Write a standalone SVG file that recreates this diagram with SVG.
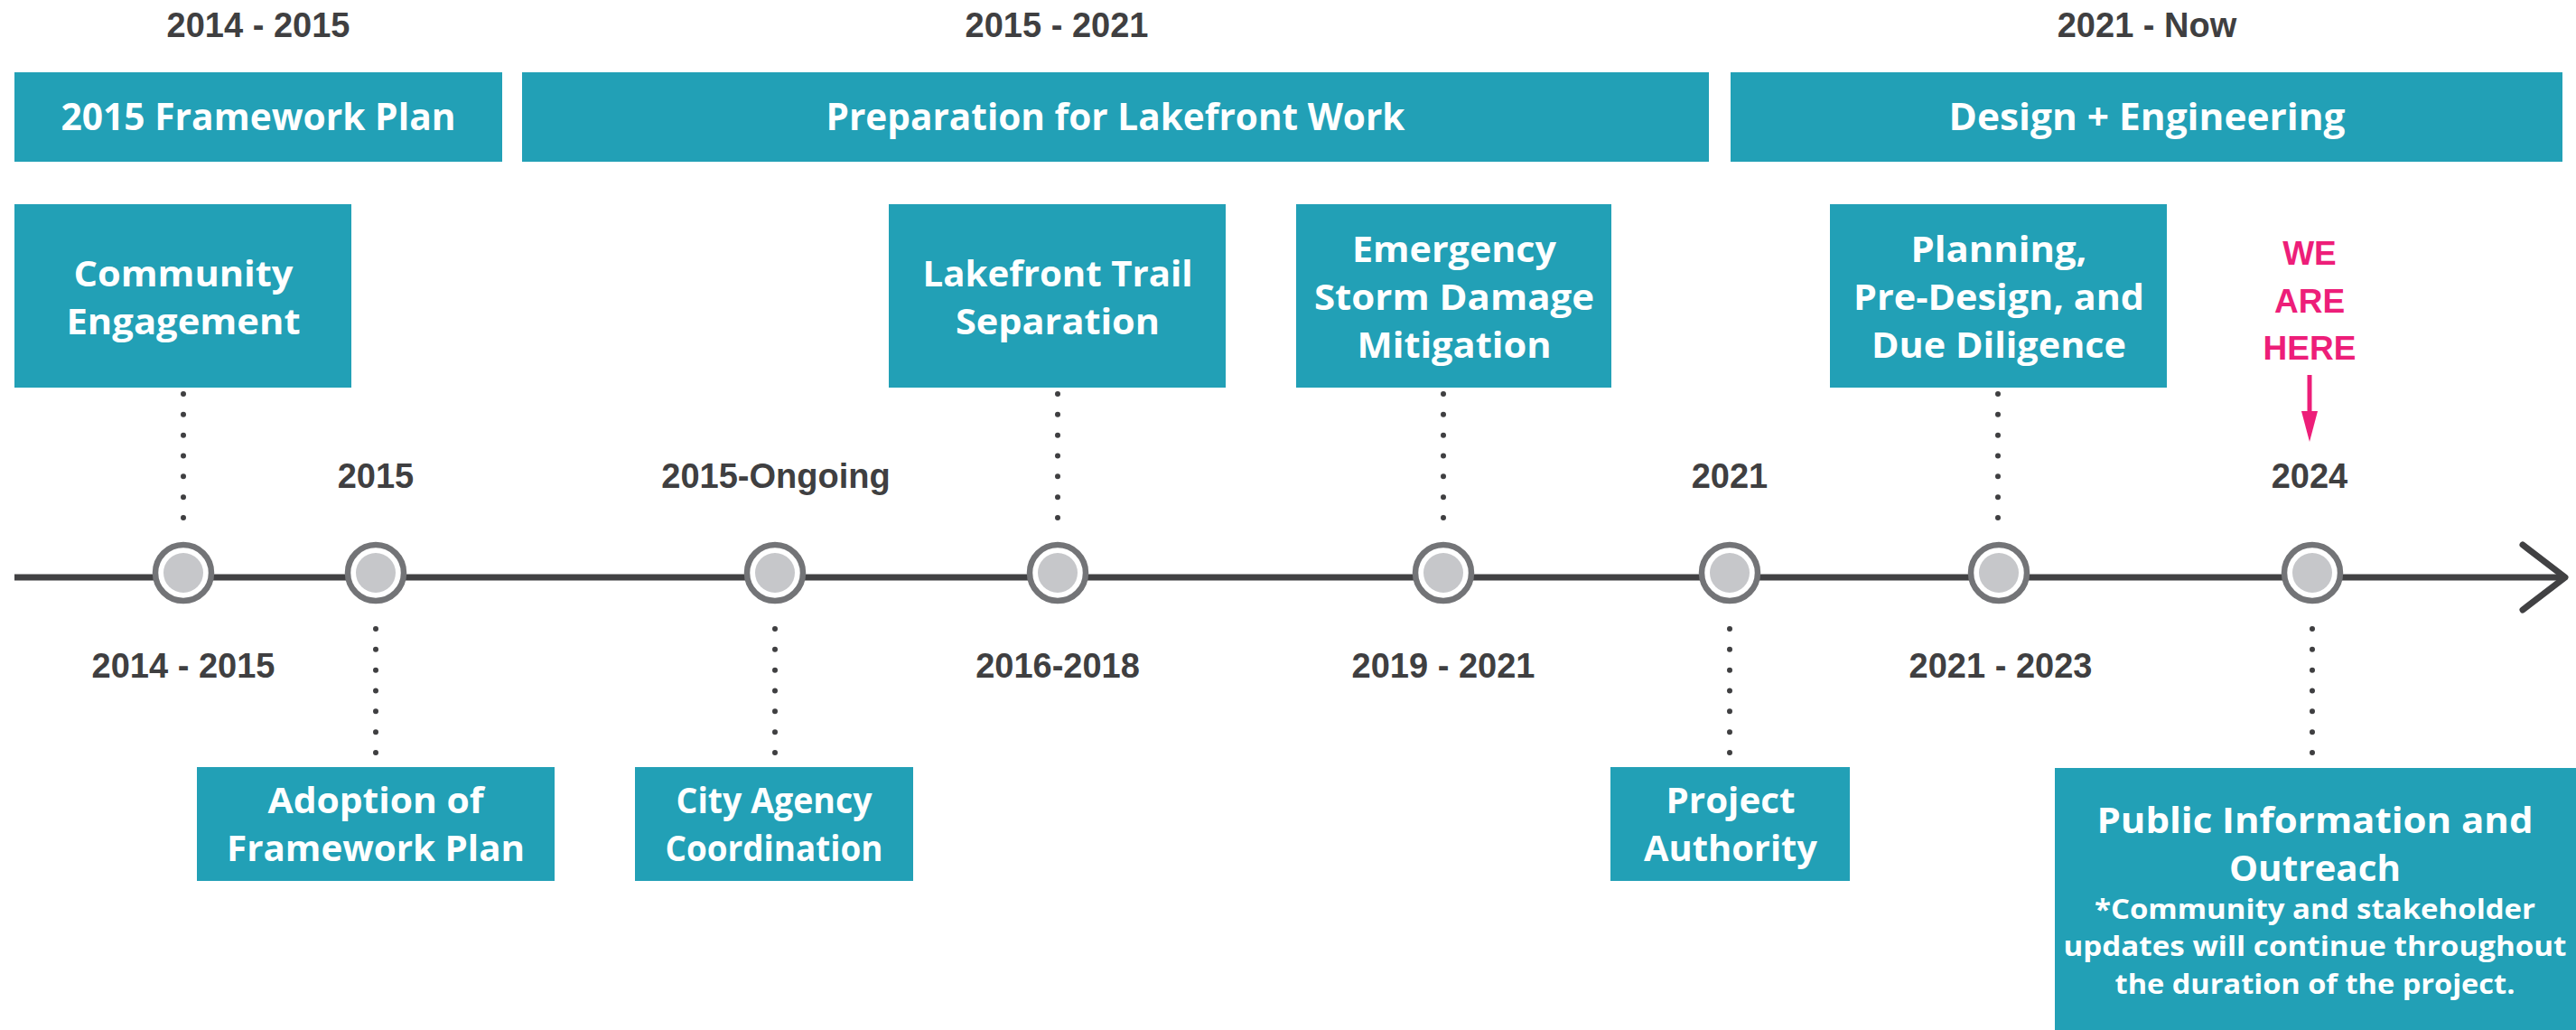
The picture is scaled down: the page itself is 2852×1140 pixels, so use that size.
<svg xmlns="http://www.w3.org/2000/svg" width="2852" height="1140" viewBox="0 0 2852 1140">
<style>
.box{fill:#22a0b6}
.bt{font-family:"Open Sans","Noto Sans",sans-serif;font-weight:700;font-size:40px;fill:#ffffff;text-anchor:middle}
.bh{font-size:41px}
.sm{font-size:30px}
.yr{font-family:"Liberation Sans",Arial,sans-serif;font-weight:700;font-size:38px;fill:#3f3f41;text-anchor:middle}
.pk{font-family:"Liberation Sans",Arial,sans-serif;font-weight:700;font-size:37px;fill:#ed1e79;text-anchor:middle}
.dot{stroke:#3f3f41;stroke-width:6;stroke-linecap:round;stroke-dasharray:0 22.83;fill:none}
.ring{fill:#ffffff;stroke:#737477;stroke-width:6.5}
.core{fill:#c6c7ca}
</style>
<rect width="2852" height="1140" fill="#ffffff"/>

<g id="period-labels">
<text class="yr" x="286" y="41">2014 - 2015</text>
<text class="yr" x="1170" y="41">2015 - 2021</text>
<text class="yr" x="2377" y="41">2021 - Now</text>
</g>

<g id="phase-framework">
<rect class="box" x="16" y="80" width="540" height="99"/>
<text class="bt bh" x="286" y="144" textLength="437" lengthAdjust="spacingAndGlyphs">2015 Framework Plan</text>
</g>
<g id="phase-preparation">
<rect class="box" x="578" y="80" width="1314" height="99"/>
<text class="bt bh" x="1235" y="144" textLength="641" lengthAdjust="spacingAndGlyphs">Preparation for Lakefront Work</text>
</g>
<g id="phase-design">
<rect class="box" x="1916" y="80" width="921" height="99"/>
<text class="bt bh" x="2377" y="144" textLength="439" lengthAdjust="spacingAndGlyphs">Design + Engineering</text>
</g>

<g id="connectors">
<line x1="16" y1="639" x2="2836" y2="639" stroke="#414143" stroke-width="7"/>
<polyline points="2793,603 2840,639 2793,675" fill="none" stroke="#414143" stroke-width="7" stroke-linecap="round" stroke-linejoin="round"/>
<line class="dot" x1="203" y1="436" x2="203" y2="573"/>
<line class="dot" x1="1171" y1="436" x2="1171" y2="573"/>
<line class="dot" x1="1598" y1="436" x2="1598" y2="573"/>
<line class="dot" x1="2212" y1="436" x2="2212" y2="573"/>
<line class="dot" x1="416" y1="696" x2="416" y2="833"/>
<line class="dot" x1="858" y1="696" x2="858" y2="833"/>
<line class="dot" x1="1915" y1="696" x2="1915" y2="833"/>
<line class="dot" x1="2560" y1="696" x2="2560" y2="833"/>
<line x1="2557" y1="415" x2="2557" y2="460" stroke="#ed1e79" stroke-width="5"/>
<polygon points="2548,455 2566,455 2557,489" fill="#ed1e79"/>
</g>

<g id="milestones">
<g id="m1"><circle class="ring" cx="203" cy="634" r="31"/><circle class="core" cx="203" cy="634" r="22"/></g>
<g id="m2"><circle class="ring" cx="416" cy="634" r="31"/><circle class="core" cx="416" cy="634" r="22"/></g>
<g id="m3"><circle class="ring" cx="858" cy="634" r="31"/><circle class="core" cx="858" cy="634" r="22"/></g>
<g id="m4"><circle class="ring" cx="1171" cy="634" r="31"/><circle class="core" cx="1171" cy="634" r="22"/></g>
<g id="m5"><circle class="ring" cx="1598" cy="634" r="31"/><circle class="core" cx="1598" cy="634" r="22"/></g>
<g id="m6"><circle class="ring" cx="1915" cy="634" r="31"/><circle class="core" cx="1915" cy="634" r="22"/></g>
<g id="m7"><circle class="ring" cx="2213" cy="634" r="31"/><circle class="core" cx="2213" cy="634" r="22"/></g>
<g id="m8"><circle class="ring" cx="2560" cy="634" r="31"/><circle class="core" cx="2560" cy="634" r="22"/></g>
</g>

<g id="year-labels">
<text class="yr" x="416" y="540">2015</text>
<text class="yr" x="859" y="540">2015-Ongoing</text>
<text class="yr" x="1915" y="540">2021</text>
<text class="yr" x="2557" y="540">2024</text>
<text class="yr" x="203" y="750">2014 - 2015</text>
<text class="yr" x="1171" y="750">2016-2018</text>
<text class="yr" x="1598" y="750">2019 - 2021</text>
<text class="yr" x="2215" y="750">2021 - 2023</text>
</g>

<g id="we-are-here">
<text class="pk" x="2557" y="293">WE</text>
<text class="pk" x="2557" y="346">ARE</text>
<text class="pk" x="2557" y="398">HERE</text>
</g>

<g id="community-engagement">
<rect class="box" x="16" y="226" width="373" height="203"/>
<text class="bt" x="203" y="317" textLength="243" lengthAdjust="spacingAndGlyphs">Community</text>
<text class="bt" x="203" y="370" textLength="259" lengthAdjust="spacingAndGlyphs">Engagement</text>
</g>
<g id="lakefront-trail">
<rect class="box" x="984" y="226" width="373" height="203"/>
<text class="bt" x="1171" y="317" textLength="299" lengthAdjust="spacingAndGlyphs">Lakefront Trail</text>
<text class="bt" x="1171" y="370" textLength="226" lengthAdjust="spacingAndGlyphs">Separation</text>
</g>
<g id="emergency-storm">
<rect class="box" x="1435" y="226" width="349" height="203"/>
<text class="bt" x="1610" y="290" textLength="226" lengthAdjust="spacingAndGlyphs">Emergency</text>
<text class="bt" x="1610" y="343" textLength="310" lengthAdjust="spacingAndGlyphs">Storm Damage</text>
<text class="bt" x="1610" y="396" textLength="215" lengthAdjust="spacingAndGlyphs">Mitigation</text>
</g>
<g id="planning">
<rect class="box" x="2026" y="226" width="373" height="203"/>
<text class="bt" x="2213" y="290" textLength="195" lengthAdjust="spacingAndGlyphs">Planning,</text>
<text class="bt" x="2213" y="343" textLength="322" lengthAdjust="spacingAndGlyphs">Pre-Design, and</text>
<text class="bt" x="2213" y="396" textLength="282" lengthAdjust="spacingAndGlyphs">Due Diligence</text>
</g>

<g id="adoption">
<rect class="box" x="218" y="849" width="396" height="126"/>
<text class="bt" x="416" y="900" textLength="239" lengthAdjust="spacingAndGlyphs">Adoption of</text>
<text class="bt" x="416" y="953" textLength="330" lengthAdjust="spacingAndGlyphs">Framework Plan</text>
</g>
<g id="city-agency">
<rect class="box" x="703" y="849" width="308" height="126"/>
<text class="bt" x="857" y="900" textLength="217" lengthAdjust="spacingAndGlyphs">City Agency</text>
<text class="bt" x="857" y="953" textLength="241" lengthAdjust="spacingAndGlyphs">Coordination</text>
</g>
<g id="project-authority">
<rect class="box" x="1783" y="849" width="265" height="126"/>
<text class="bt" x="1916" y="900" textLength="143" lengthAdjust="spacingAndGlyphs">Project</text>
<text class="bt" x="1916" y="953" textLength="192" lengthAdjust="spacingAndGlyphs">Authority</text>
</g>
<g id="public-information">
<rect class="box" x="2275" y="850" width="577" height="290"/>
<text class="bt" x="2563" y="922" textLength="483" lengthAdjust="spacingAndGlyphs">Public Information and</text>
<text class="bt" x="2563" y="975" textLength="190" lengthAdjust="spacingAndGlyphs">Outreach</text>
<text class="bt sm" x="2563" y="1017" textLength="488" lengthAdjust="spacingAndGlyphs">*Community and stakeholder</text>
<text class="bt sm" x="2563" y="1058" textLength="557" lengthAdjust="spacingAndGlyphs">updates will continue throughout</text>
<text class="bt sm" x="2563" y="1100" textLength="443" lengthAdjust="spacingAndGlyphs">the duration of the project.</text>
</g>
</svg>
